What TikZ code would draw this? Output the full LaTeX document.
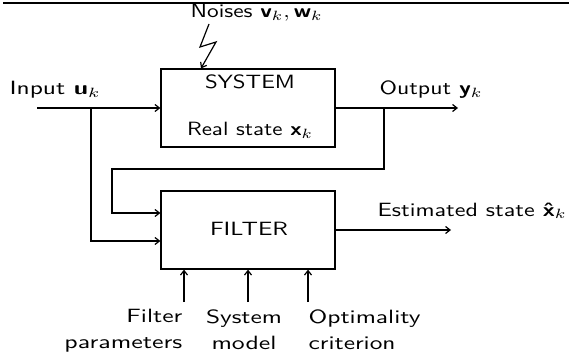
\documentclass[tikz,border=0pt]{standalone}
\usepackage{graphicx}
\usetikzlibrary{arrows.meta}
% text of a given width, cap height about 13.3pt
\newcommand{\fit}[2]{\resizebox{#1}{\height}{\scalebox{1.92}{#2}}}
\begin{document}
\begin{tikzpicture}[x=1pt,y=-1pt,
  line width=1.2pt,
  arr/.style={-{Straight Barb[length=4.5pt,width=7pt]}},
  blk/.style={draw, minimum width=174pt, minimum height=78pt, inner sep=0pt},
  txt/.style={inner sep=0pt, font=\sffamily\fontsize{10}{26}\selectfont}]
\useasboundingbox (0,0) rectangle (569,358);
\draw[line width=1.3pt] (3,3) -- (569,3);
% blocks
\node[blk] (sys) at (248,108) {};
\node[blk] (fil) at (248,230) {};
\node[txt, anchor=base] (systxt) at (250,89) {\fit{90pt}{SYSTEM}};
\node[txt, anchor=base] (rstxt) at (250,136) {\fit{126pt}{Real state \textbf{x}$_k$}};
\node[txt, anchor=base] (filtxt) at (249,235) {\fit{78pt}{FILTER}};
% labels
\node[txt, anchor=base west] (intxt) at (9,95) {\fit{91pt}{Input \textbf{u}$_k$}};
\node[txt, anchor=base west] (outtxt) at (379,95) {\fit{103pt}{Output \textbf{y}$_k$}};
\node[txt, anchor=base west] (noisetxt) at (190,18) {\fit{132pt}{Noises \textbf{v}$_k,$\,\textbf{w}$_k$}};
\node[txt, anchor=base west] (esttxt) at (377,216) {\fit{189pt}{Estimated state \textbf{\^x}$_k$}};
\node[txt, anchor=north east, align=right] (fptxt) at (183,308.7) {\fit{56pt}{Filter}\\\fit{118pt}{parameters}};
\node[txt, anchor=north, align=center] (smtxt) at (244,308.7) {\fit{76pt}{System}\\\fit{65pt}{model}};
\node[txt, anchor=north west, align=left] (octxt) at (308,308.7) {\fit{112pt}{Optimality}\\\fit{87pt}{criterion}};
% coordinates
\coordinate (in) at (37,108);
\coordinate (b1) at (91,108);
\coordinate (out) at (458,108);
\coordinate (b2) at (384,108);
\coordinate (fb) at (112,169);
\coordinate (est) at (451,230);
\coordinate (nz) at (209,24);
\coordinate (p1) at (184,302);
\coordinate (p2) at (248,302);
\coordinate (p3) at (308,302);
% connectors
\draw[arr] (in) -- (sys.west);
\draw[arr] (b1) |- ([yshift=-11pt]fil.west);
\draw[arr] (sys.east) -- (out);
\draw[arr] (b2) |- (fb) |- ([yshift=17pt]fil.west);
\draw[arr] (fil.east) -- (est);
\draw[arr] (nz) -- (200,47) -- (216,42) -- (sys.north -| 201,0);
\draw[arr] (p1) -- (fil.south -| p1);
\draw[arr] (p2) -- (fil.south -| p2);
\draw[arr] (p3) -- (fil.south -| p3);
\end{tikzpicture}
\end{document}
